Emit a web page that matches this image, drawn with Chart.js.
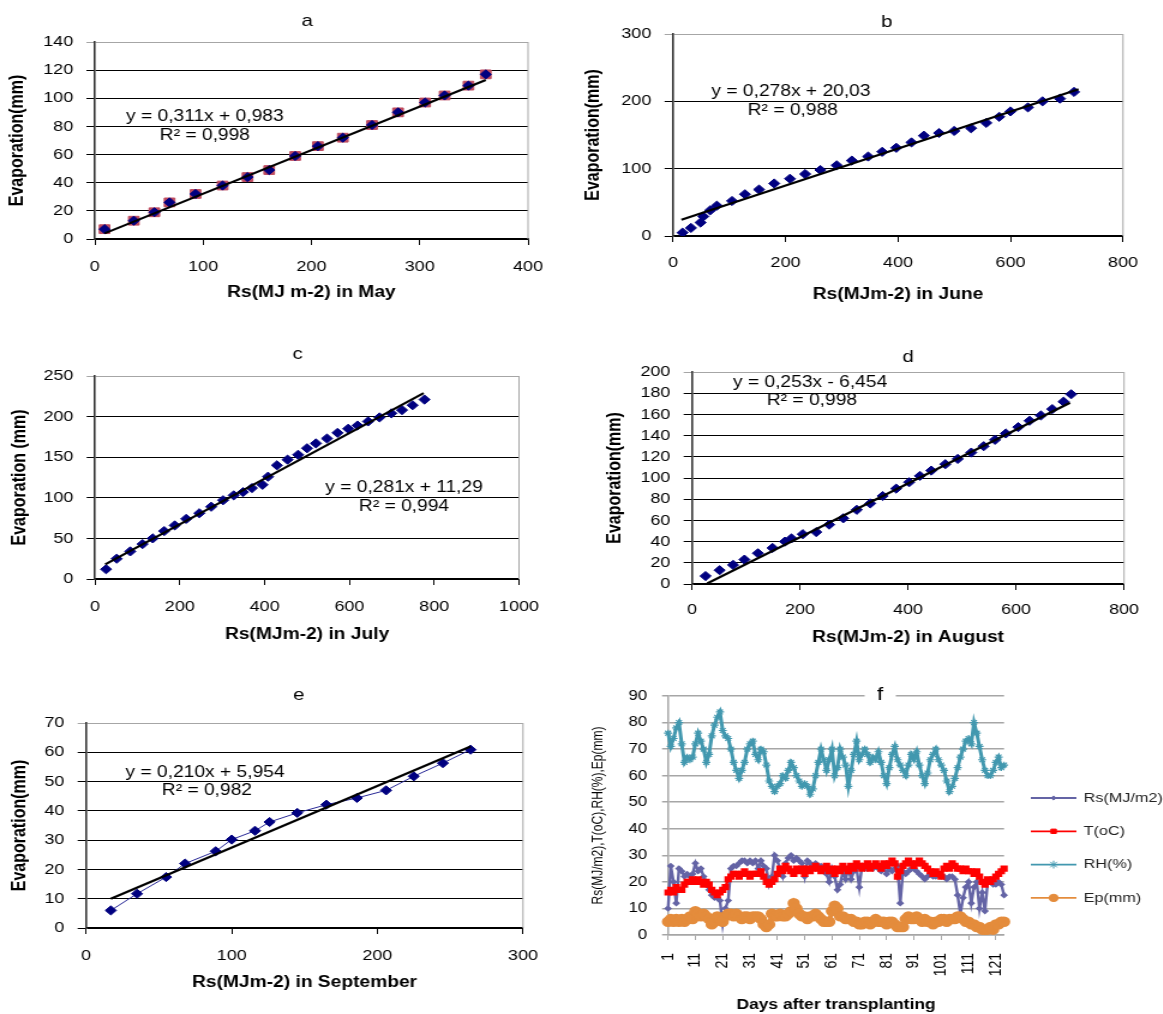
<!DOCTYPE html>
<html>
<head>
<meta charset="utf-8">
<script src="https://cdn.jsdelivr.net/npm/chart.js"></script>
<style>
  body { margin: 0; background: #fff; }
  #page { position: relative; width: 1163px; height: 1014px; overflow: hidden; background: #fff; }
  /* the source figure is stretched sideways, so every panel is drawn narrow and widened */
  .panel { position: absolute; transform: scaleX(1.2); transform-origin: 0 0; }
</style>
</head>
<body>
<div id="page">
  <div class="panel" style="left:0;top:0"><canvas id="chartA" width="475" height="320"></canvas></div>
  <div class="panel" style="left:570px;top:0"><canvas id="chartB" width="494" height="320"></canvas></div>
  <div class="panel" style="left:0;top:330px"><canvas id="chartC" width="475" height="330"></canvas></div>
  <div class="panel" style="left:570px;top:330px"><canvas id="chartD" width="494" height="330"></canvas></div>
  <div class="panel" style="left:0;top:670px"><canvas id="chartE" width="475" height="344"></canvas></div>
  <div class="panel" style="left:570px;top:670px"><canvas id="chartF" width="494" height="344"></canvas></div>
</div>
<script>
// a - May
const aRs   = [9, 36, 55, 69, 93, 118, 141, 161, 185, 206, 229, 256, 280, 305, 323, 345, 361];
const aEvap = [7, 13, 19, 26, 32, 38, 44, 49, 59, 66, 72, 81, 90, 97, 102, 109, 117];
const aTrendX = [9, 361];
const aTrendY = [4, 113];

// b - June
const bRs   = [17, 32, 49, 54, 66, 78, 105, 128, 153, 180, 208, 235, 262, 291, 318, 347, 372, 397, 424, 446,
               473, 500, 530, 557, 580, 600, 631, 657, 688, 713];
const bEvap = [5, 12, 20, 29, 38, 45, 52, 62, 69, 78, 85, 92, 98, 105, 112, 118, 125, 131, 139, 149,
               153, 156, 160, 168, 177, 185, 191, 200, 204, 214];
const bTrendX = [15, 721];
const bTrendY = [24, 218];

// c - July
const cRs   = [26, 51, 83, 112, 136, 163, 188, 215, 246, 274, 302, 327, 349, 370, 395, 408, 429, 454, 479, 500,
               521, 547, 572, 597, 619, 644, 671, 699, 724, 749, 777];
const cEvap = [12, 25, 34, 43, 50, 59, 66, 74, 81, 89, 97, 103, 107, 112, 116, 126, 140, 147, 153, 161,
               167, 173, 180, 185, 189, 194, 199, 204, 208, 214, 221];
const cTrendX = [24, 775];
const cTrendY = [18, 229];

// d - August
const dRs   = [25, 51, 76, 97, 122, 149, 172, 184, 205, 230, 254, 280, 305, 330, 353, 378, 402, 422, 443, 469,
               492, 517, 540, 561, 581, 604, 625, 646, 667, 688, 702];
const dEvap = [7.5, 13, 18, 23, 29, 34, 40, 43, 47, 49, 56, 62, 70, 76, 83, 90, 96, 102, 107, 113,
               118, 124, 130, 136, 142, 148, 154, 159, 165, 172, 179];
const dTrendX = [28, 700];
const dTrendY = [0.5, 171];

// e - September
const eRs   = [17, 35, 55, 68, 89, 100, 116, 126, 145, 165, 186, 206, 225, 245, 264];
const eEvap = [6, 11.7, 17.4, 22, 26.2, 30.2, 33.2, 36.2, 39.3, 42.1, 44.4, 47, 51.8, 56.3, 60.9];
const eTrendX = [17, 264];
const eTrendY = [10, 62];

// f - daily weather after transplanting
const fDays = Array.from({ length: 124 }, (_, i) => String(i + 1));
const fRs = [10, 26, 20, 12, 25, 24, 22, 23, 22, 23,  27, 24, 25, 22, 20, 17, 15, 14, 14, 13,
             4, 10, 13, 25, 26, 26, 27, 28, 28, 27,   28, 27, 28, 25, 28, 26, 25, 19, 22, 30,
             28, 25, 22, 27, 29, 30, 28, 29, 28, 27,  22, 28, 27, 26, 27, 26, 26, 25, 23, 20,
             25, 22, 17, 19, 24, 21, 25, 21, 24, 25,  18, 26, 25, 25, 26, 25, 26, 25, 24, 26,
             23, 25, 24, 25, 26, 12, 24, 23, 24, 25,  25, 24, 23, 22, 21, 22, 23, 22, 22, 23,
             22, 22, 21, 22, 22, 21, 15, 8, 14, 18,   20, 12, 18, 20, 10, 16, 9, 20, 20, 19,
             19, 20, 19, 15];
const fT  = [16, 17, 16, 18, 17, 17, 19, 20, 20, 21,  20, 21, 20, 19, 20, 19, 17, 16, 15, 16,
             17, 18, 21, 22, 23, 23, 22, 23, 24, 23,  22, 23, 23, 23, 24, 22, 20, 19, 20, 21,
             23, 25, 24, 26, 25, 24, 23, 25, 24, 25,  23, 25, 24, 25, 26, 25, 24, 25, 26, 24,
             25, 23, 25, 24, 26, 25, 24, 26, 25, 27,  26, 25, 26, 27, 25, 26, 27, 26, 25, 27,
             26, 27, 28, 27, 22, 24, 26, 27, 28, 27,  26, 27, 28, 27, 26, 25, 24, 23, 24, 23,
             22, 25, 26, 25, 27, 26, 25, 25, 24, 25,  24, 24, 23, 24, 22, 20, 19, 21, 20, 21,
             22, 23, 24, 25];
const fRH = [76, 71, 74, 78, 80, 72, 65, 67, 66, 67,  72, 76, 73, 70, 65, 68, 75, 79, 82, 84,
             77, 75, 74, 70, 65, 62, 59, 62, 65, 70,  72, 73, 68, 66, 70, 69, 64, 58, 56, 54,
             56, 57, 60, 59, 62, 65, 63, 60, 58, 56,  57, 56, 53, 55, 60, 65, 70, 66, 62, 66,
             70, 60, 63, 70, 67, 64, 56, 62, 68, 73,  66, 68, 70, 68, 65, 67, 66, 69, 65, 60,
             57, 63, 68, 71, 66, 64, 62, 60, 64, 68,  66, 69, 64, 60, 57, 61, 66, 68, 70, 66,
             64, 62, 58, 54, 56, 59, 63, 67, 70, 73,  74, 72, 80, 76, 71, 66, 62, 60, 60, 62,
             65, 67, 63, 64];
const fEp = [5, 6, 5, 6, 5, 6, 5, 6, 7, 6,  9, 8, 7, 8, 7, 6, 4, 5, 7, 6,
             5, 7, 8, 8, 7, 8, 7, 6, 7, 7,  6, 7, 7, 7, 6, 4, 3, 4, 8, 7,
             7, 8, 7, 7, 8, 9, 12, 10, 8, 7,  7, 6, 7, 7, 8, 7, 6, 5, 5, 5,
             9, 11, 10, 7, 7, 6, 6, 6, 5, 5,  4, 4, 5, 5, 4, 5, 6, 5, 5, 5,
             4, 5, 5, 4, 3, 3, 3, 6, 7, 6,  6, 7, 6, 5, 6, 5, 5, 4, 5, 5,
             6, 6, 5, 6, 6, 6, 7, 7, 6, 5,  5, 4, 4, 3, 3, 2, 2, 2, 3, 2,
             4, 4, 5, 5];

Chart.defaults.font.family = "'Liberation Sans', Arial, sans-serif";
Chart.defaults.color = '#000';

const chartAreaBorder = {
  id: 'chartAreaBorder',
  beforeDatasetsDraw(chart, args, options) {
    if (!options.color) return;
    const {ctx, chartArea: {top, right, bottom}} = chart;
    ctx.save();
    ctx.strokeStyle = options.color;
    ctx.lineWidth = 1;
    ctx.beginPath();
    ctx.moveTo(right, top);
    ctx.lineTo(right, bottom);
    ctx.stroke();
    ctx.restore();
  }
};

// panel letter and the trend line equation
const panelText = {
  id: 'panelText',
  afterDraw(chart, args, o) {
    const ctx = chart.ctx;
    ctx.save();
    ctx.textAlign = 'center';
    ctx.textBaseline = 'middle';
    ctx.font = o.titleFont;
    if (o.titleBg) {
      ctx.fillStyle = '#fff';
      ctx.fillRect(o.titleX - o.titleBg / 2, o.titleY - 11, o.titleBg, 22);
    }
    ctx.fillStyle = '#000';
    ctx.fillText(o.title, o.titleX, o.titleY);
    if (o.eq) {
      ctx.font = o.eqFont;
      o.eq.forEach((t, i) => {
        const x = chart.scales.x.getPixelForValue(o.eqAt[i][0]);
        const y = chart.scales.y.getPixelForValue(o.eqAt[i][1]);
        ctx.fillText(t, x, y);
      });
    }
    ctx.restore();
  }
};

// legend on the right of panel f, line with marker like Excel
const sideLegend = {
  id: 'sideLegend',
  afterDraw(chart, args, o) {
    if (!o.x0) return;
    const ctx = chart.ctx;
    ctx.save();
    ctx.font = o.font;
    ctx.textBaseline = 'middle';
    ctx.textAlign = 'left';
    chart.data.datasets.forEach((ds, i) => {
      const y = o.y0 + i * o.gap;
      ctx.strokeStyle = ds.borderColor;
      ctx.lineWidth = 1.8;
      ctx.beginPath();
      ctx.moveTo(o.x0, y);
      ctx.lineTo(o.x0 + o.len, y);
      ctx.stroke();
      if (Chart.helpers && Chart.helpers.drawPoint) {
        ctx.fillStyle = ds.backgroundColor;
        ctx.strokeStyle = ds.borderColor;
        ctx.lineWidth = 1;
        Chart.helpers.drawPoint(ctx, {pointStyle: ds.pointStyle, radius: ds.pointRadius + 0.5, rotation: 0, borderWidth: 1},
          o.x0 + o.len / 2, y);
      }
      ctx.fillStyle = '#222';
      ctx.fillText(ds.label, o.x0 + o.len + 6, y);
    });
    ctx.restore();
  }
};

function scatterPanel(p) {
  const pts = p.xs.map((x, i) => ({x: x, y: p.ys[i]}));
  const trend = p.trendX.map((x, i) => ({x: x, y: p.trendY[i]}));
  const datasets = [
    {label: 'trend', data: trend, showLine: true, borderColor: '#000', borderWidth: 2.2, pointRadius: 0, order: 0},
    {label: 'Evaporation', data: pts, showLine: p.line, borderColor: 'rgb(40,40,150)', borderWidth: 1,
     pointStyle: 'rectRot', pointRadius: 4.6, pointBackgroundColor: '#000080', pointBorderColor: '#000080', order: 1}
  ];
  if (p.squares) {
    datasets.push({label: 'sq', data: pts, pointStyle: 'rect', pointRadius: 6.2,
      pointBackgroundColor: 'rgb(190,75,95)', pointBorderColor: 'rgb(190,75,95)', order: 2});
  }
  const b = p.box;
  new Chart(p.id, {
    type: 'scatter',
    data: {datasets: datasets},
    options: {
      responsive: false,
      animation: false,
      events: [],
      layout: {padding: {top: b.top, right: b.right, left: 0, bottom: 0}},
      plugins: {
        legend: {display: false},
        tooltip: {enabled: false},
        chartAreaBorder: {color: '#a6a6a6'},
        panelText: {title: p.title, titleX: p.titleX, titleY: p.titleY, titleBg: p.titleBg,
                    titleFont: '17px "Liberation Sans", Arial', eq: p.eq, eqAt: p.eqAt,
                    eqFont: '16px "Liberation Sans", Arial'}
      },
      scales: {
        x: {
          type: 'linear', min: 0, max: p.xMax,
          ticks: {stepSize: p.xStep, font: {size: 15}, padding: b.xP, callback: v => String(v)},
          grid: {drawOnChartArea: false, drawTicks: true, tickLength: 6, color: '#000'},
          border: {color: '#000', width: 1.3},
          title: {display: true, text: p.xTitle, font: {size: 16, weight: 'bold'}, padding: {top: 0, bottom: b.xT}},
          afterFit: s => { s.height = b.xH; }
        },
        y: {
          min: 0, max: p.yMax,
          ticks: {stepSize: p.yStep, font: {size: 15}, padding: 11, callback: v => String(v)},
          grid: {color: c => (c.tick && c.tick.value === p.yMax) ? '#a6a6a6' : '#000', lineWidth: 1, tickLength: 7},
          border: {color: '#333', width: 1.6},
          title: {display: true, text: p.yTitle, font: {size: 16, weight: 'bold'}, padding: {top: b.yT, bottom: 0}},
          afterFit: s => { s.width = b.yW; }
        }
      }
    },
    plugins: [chartAreaBorder, panelText, sideLegend]
  });
}

scatterPanel({id: 'chartA', title: 'a', titleX: 256, titleY: 21, xs: aRs, ys: aEvap, trendX: aTrendX, trendY: aTrendY,
  squares: true, line: false, xMax: 400, xStep: 100, yMax: 140, yStep: 20,
  xTitle: 'Rs(MJ m-2) in May', yTitle: 'Evaporation(mm)',
  eq: ['y = 0,311x + 0,983', 'R² = 0,998'], eqAt: [[101.6, 86.7], [101.6, 73.2]],
  box: {yW: 79, xH: 81, top: 42, right: 35, yT: 5.4, xT: 17.4, xP: 13}});

scatterPanel({id: 'chartB', title: 'b', titleX: 264, titleY: 22, titleBg: 35, xs: bRs, ys: bEvap, trendX: bTrendX, trendY: bTrendY,
  squares: false, line: false, xMax: 800, xStep: 200, yMax: 300, yStep: 100,
  xTitle: 'Rs(MJm-2) in June', yTitle: 'Evaporation(mm)',
  eq: ['y = 0,278x + 20,03', 'R² = 0,988'], eqAt: [[209.8, 213.9], [213, 185.6]],
  box: {yW: 85.8, xH: 84, top: 34, right: 33.2, yT: 9.6, xT: 15.4, xP: 12}});

scatterPanel({id: 'chartC', title: 'c', titleX: 248, titleY: 24, xs: cRs, ys: cEvap, trendX: cTrendX, trendY: cTrendY,
  squares: false, line: false, xMax: 1000, xStep: 200, yMax: 250, yStep: 50,
  xTitle: 'Rs(MJm-2) in July', yTitle: 'Evaporation (mm)',
  eq: ['y = 0,281x + 11,29', 'R² = 0,994'], eqAt: [[728.8, 112], [728.8, 88.7]],
  box: {yW: 79.2, xH: 81, top: 46, right: 42.5, yT: 7.1, xT: 15.4, xP: 13}});

scatterPanel({id: 'chartD', title: 'd', titleX: 281.7, titleY: 27, xs: dRs, ys: dEvap, trendX: dTrendX, trendY: dTrendY,
  squares: false, line: false, xMax: 800, xStep: 200, yMax: 200, yStep: 20,
  xTitle: 'Rs(MJm-2) in August', yTitle: 'Evaporation(mm)',
  eq: ['y = 0,253x - 6,454', 'R² = 0,998'], eqAt: [[218.5, 189.6], [222, 172.6]],
  box: {yW: 101.7, xH: 76, top: 42, right: 32.3, yT: 27.9, xT: 12.4, xP: 11}});

scatterPanel({id: 'chartE', title: 'e', titleX: 249, titleY: 25, xs: eRs, ys: eEvap, trendX: eTrendX, trendY: eTrendY,
  squares: false, line: true, xMax: 300, xStep: 100, yMax: 70, yStep: 10,
  xTitle: 'Rs(MJm-2) in September', yTitle: 'Evaporation(mm)',
  eq: ['y = 0,210x + 5,954', 'R² = 0,982'], eqAt: [[81.7, 52.9], [83, 46.8]],
  box: {yW: 71.7, xH: 86, top: 53, right: 39.2, yT: 7.1, xT: 21.4, xP: 13}});

new Chart('chartF', {
  type: 'line',
  data: {
    labels: fDays,
    datasets: [
      {label: 'Rs(MJ/m2)', data: fRs, borderColor: 'rgb(100,100,165)', backgroundColor: 'rgb(100,100,165)',
       borderWidth: 2.4, pointStyle: 'rectRot', pointRadius: 1.6, order: 4},
      {label: 'T(oC)', data: fT, borderColor: 'rgb(255,0,0)', backgroundColor: 'rgb(255,0,0)',
       borderWidth: 2.5, pointStyle: 'rect', pointRadius: 2.6, order: 3},
      {label: 'RH(%)', data: fRH, borderColor: 'rgb(66,152,175)', backgroundColor: 'rgb(66,152,175)',
       borderWidth: 3, pointStyle: 'star', pointRadius: 3.4, pointBorderWidth: 1.2, order: 2},
      {label: 'Ep(mm)', data: fEp, borderColor: 'rgb(228,140,60)', backgroundColor: 'rgb(228,140,60)',
       borderWidth: 4, pointStyle: 'circle', pointRadius: 3.2, order: 1}
    ]
  },
  options: {
    responsive: false,
    animation: false,
    events: [],
    layout: {padding: {top: 26, right: 132.3, left: 0, bottom: 0}},
    plugins: {
      legend: {display: false},
      tooltip: {enabled: false},
      chartAreaBorder: {color: null},
      panelText: {title: 'f', titleX: 258.5, titleY: 25, titleBg: 26, titleFont: '19px "Liberation Sans", Arial'},
      sideLegend: {x0: 384, y0: 128, gap: 33.3, len: 38, font: '13.5px "Liberation Sans", Arial'}
    },
    scales: {
      x: {
        type: 'category', offset: false,
        ticks: {autoSkip: false, minRotation: 90, maxRotation: 90, font: {size: 14}, padding: 13,
                callback: (v, i) => (i % 10 === 0 ? fDays[i] : null)},
        grid: {drawOnChartArea: false, drawTicks: true, tickLength: 5, color: '#a6a6a6'},
        border: {color: '#a6a6a6', width: 1.5},
        title: {display: true, text: 'Days after transplanting', font: {size: 14.5, weight: 'bold'}, padding: {top: 0, bottom: 0.3}},
        afterFit: s => { s.height = 79; }
      },
      y: {
        min: 0, max: 90,
        ticks: {stepSize: 10, font: {size: 14}, padding: 12.5},
        grid: {color: '#a6a6a6', lineWidth: 1.5, tickLength: 5},
        border: {color: '#a6a6a6', width: 1.5},
        title: {display: true, text: 'Rs(MJ/m2),T(oC),RH(%),Ep(mm)', font: {size: 12}, padding: {top: 16.1, bottom: 0}},
        afterFit: s => { s.width = 81.7; }
      }
    }
  },
  plugins: [chartAreaBorder, panelText, sideLegend]
});
</script>
</body>
</html>
